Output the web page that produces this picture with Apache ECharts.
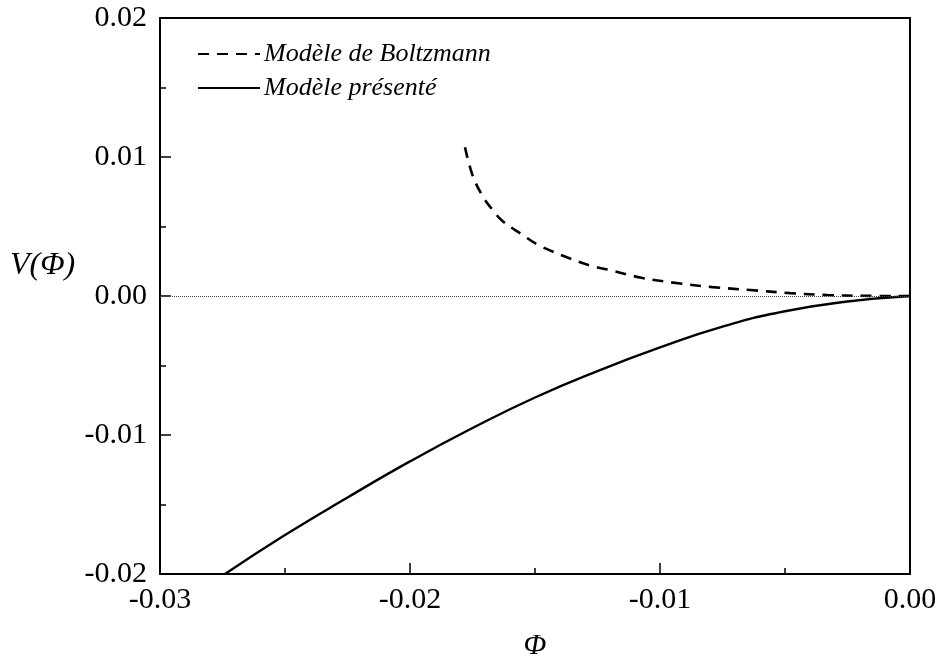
<!DOCTYPE html>
<html>
<head>
<meta charset="utf-8">
<script src="https://cdn.jsdelivr.net/npm/echarts@6/dist/echarts.min.js"></script>
<style>
  html, body { margin: 0; padding: 0; background: #fff; }
  #chart { width: 940px; height: 666px; }
</style>
</head>
<body>
<div id="chart"></div>
<script>
// Sagdeev potential V(Φ): Boltzmann model vs. the present model
const boltzmannPhi = [-0.0178, -0.0175, -0.0171, -0.0167, -0.0163, -0.0155, -0.0149, -0.0143, -0.0136, -0.0128, -0.0121, -0.0107, -0.0092, -0.0079, -0.0064, -0.0048, -0.0033, -0.0017, 0];
const boltzmannV   = [0.0107, 0.0087, 0.0072, 0.0062, 0.0054, 0.0044, 0.0037, 0.0032, 0.0027, 0.0022, 0.0019, 0.0013, 0.0009, 0.00064, 0.00043, 0.00021, 0.00007, 0.00001, 0];

const presentPhi = [-0.0274, -0.025, -0.0225, -0.02, -0.0175, -0.015, -0.0125, -0.01, -0.0075, -0.005, -0.0025, 0];
const presentV   = [-0.0200, -0.0172, -0.0145, -0.0119, -0.0095, -0.0073, -0.0054, -0.0037, -0.0022, -0.0011, -0.0004, 0];

const xTicks = [-0.03, -0.02, -0.01, 0.00];
const yTicks = [-0.02, -0.01, 0.00, 0.01, 0.02];

const seriesNames = ['Modèle de Boltzmann', 'Modèle présenté'];

const pairs = (xs, ys) => xs.map((x, i) => [x, ys[i]]);
const serif = 'Liberation Serif, Times New Roman, serif';
const ink = '#000';

const chart = echarts.init(document.getElementById('chart'), null, { renderer: 'canvas' });

chart.setOption({
  animation: false,
  backgroundColor: '#fff',
  grid: { left: 160, right: 30, top: 18, bottom: 89, containLabel: false },
  legend: {
    left: 192, top: 36,
    orient: 'vertical',
    itemWidth: 62, itemHeight: 14, itemGap: 8,
    itemStyle: { opacity: 0 },
    textStyle: { fontFamily: serif, fontStyle: 'italic', fontSize: 26, color: ink, padding: [0, 0, 0, -1] },
    data: seriesNames
  },
  graphic: [{
    type: 'text', left: 10, top: 250,
    style: { text: 'V(Φ)', font: 'italic 32px ' + serif, fill: ink }
  }],
  xAxis: [{
    type: 'value',
    min: xTicks[0], max: xTicks[xTicks.length - 1], interval: 0.01,
    name: 'Φ', nameLocation: 'middle', nameGap: 57,
    nameTextStyle: { fontFamily: serif, fontStyle: 'italic', fontSize: 30, color: ink },
    axisLine: { show: true, onZero: false, lineStyle: { color: ink, width: 2 } },
    axisTick: { show: true, inside: true, length: 11, lineStyle: { color: ink, width: 1.5 } },
    minorTick: { show: true, splitNumber: 2, length: 6, lineStyle: { color: ink, width: 1.5 } },
    splitLine: { show: false },
    axisLabel: { margin: 11, fontFamily: serif, fontSize: 30, color: ink, formatter: v => v.toFixed(2) }
  }, {
    type: 'value', position: 'top',
    min: xTicks[0], max: xTicks[xTicks.length - 1],
    axisLine: { show: true, onZero: false, lineStyle: { color: ink, width: 2 } },
    axisTick: { show: false }, axisLabel: { show: false }, splitLine: { show: false }
  }],
  yAxis: [{
    type: 'value',
    min: yTicks[0], max: yTicks[yTicks.length - 1], interval: 0.01,
    axisLine: { show: true, onZero: false, lineStyle: { color: ink, width: 2 } },
    axisTick: { show: true, inside: true, length: 11, lineStyle: { color: ink, width: 1.5 } },
    minorTick: { show: true, splitNumber: 2, length: 6, lineStyle: { color: ink, width: 1.5 } },
    splitLine: { show: false },
    axisLabel: { margin: 13, fontFamily: serif, fontSize: 30, color: ink, formatter: v => v.toFixed(2) }
  }, {
    type: 'value', position: 'right',
    min: yTicks[0], max: yTicks[yTicks.length - 1],
    axisLine: { show: true, onZero: false, lineStyle: { color: ink, width: 2 } },
    axisTick: { show: false }, axisLabel: { show: false }, splitLine: { show: false }
  }],
  series: [{
    name: seriesNames[0],
    type: 'line',
    data: pairs(boltzmannPhi, boltzmannV),
    smooth: 0.4,
    showSymbol: false, symbol: 'none',
    lineStyle: { color: ink, width: 2.6, type: [11, 8] },
    itemStyle: { color: ink },
    z: 3
  }, {
    name: seriesNames[1],
    type: 'line',
    data: pairs(presentPhi, presentV),
    smooth: 0.5,
    showSymbol: false, symbol: 'none',
    lineStyle: { color: ink, width: 2.4 },
    itemStyle: { color: ink },
    z: 3,
    markLine: {
      silent: true, symbol: 'none', label: { show: false },
      lineStyle: { color: '#444', width: 1, type: [1, 1] },
      data: [{ yAxis: 0 }]
    }
  }]
});
</script>
</body>
</html>
